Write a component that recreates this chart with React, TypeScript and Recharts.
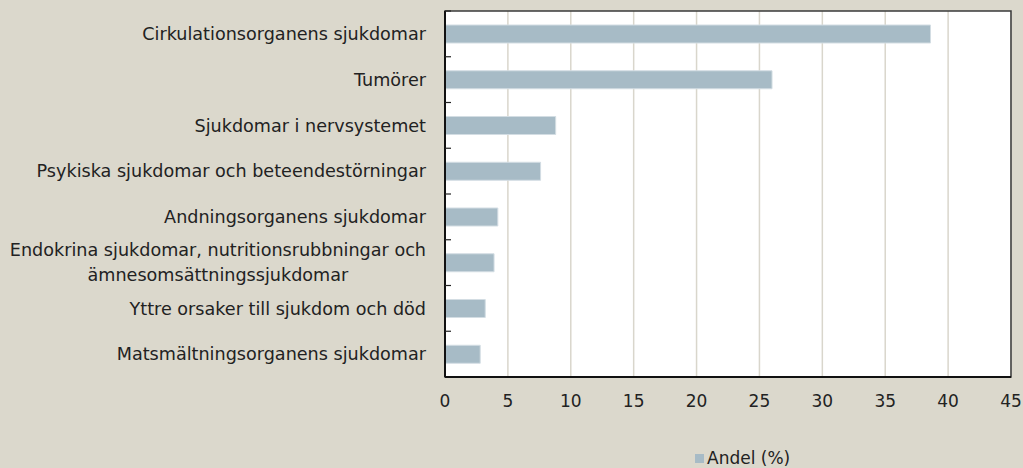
import React from "react";
import {
  Bar,
  BarChart,
  CartesianGrid,
  Legend,
  ReferenceArea,
  XAxis,
  YAxis,
} from "recharts";

// Dödsorsaker, andel (%)
const categories = [
  "Cirkulationsorganens sjukdomar",
  "Tumörer",
  "Sjukdomar i nervsystemet",
  "Psykiska sjukdomar och beteendestörningar",
  "Andningsorganens sjukdomar",
  "Endokrina sjukdomar, nutritionsrubbningar och\nämnesomsättningssjukdomar",
  "Yttre orsaker till sjukdom och död",
  "Matsmältningsorganens sjukdomar",
];
const andel = [38.6, 26.0, 8.8, 7.6, 4.2, 3.9, 3.2, 2.8];
const xTicks = [0, 5, 10, 15, 20, 25, 30, 35, 40, 45];

const FONT = '"DejaVu Sans", sans-serif';
const LABEL_SIZE = 17.6;
const TICK_SIZE = 17;
const BAR_COLOR = "#a7bbc6";
const BG = "#dbd8cc";

const data = categories.map((name, i) => ({ name, andel: andel[i] }));

let ctx: CanvasRenderingContext2D | null = null;
function textWidth(s: string) {
  if (!ctx) ctx = document.createElement("canvas").getContext("2d");
  if (!ctx) return s.length * 9.5;
  ctx.font = `${LABEL_SIZE}px "DejaVu Sans"`;
  return ctx.measureText(s).width;
}

const TICK_GAP = 19;

function CategoryTick(props: any) {
  const { x, y, payload } = props;
  const lines = String(payload.value).split("\n");
  const half = payload.offset ?? 0;
  const axisX = x + TICK_GAP;
  const lineH = 25;
  const maxW = Math.max(...lines.map(textWidth));
  return (
    <g>
      <line x1={axisX} x2={axisX + 6} y1={y - half} y2={y - half} stroke="#222" strokeWidth={1.2} />
      {lines.map((l, i) => (
        <text
          key={i}
          x={lines.length > 1 ? x - maxW / 2 : x}
          y={y + (i - (lines.length - 1) / 2) * lineH}
          dy="0.35em"
          textAnchor={lines.length > 1 ? "middle" : "end"}
          fill="#222"
          fontSize={LABEL_SIZE}
          fontFamily={FONT}
        >
          {l}
        </text>
      ))}
    </g>
  );
}

function LegendContent() {
  return (
    <div style={{ display: "flex", alignItems: "center", fontFamily: FONT, fontSize: 17, color: "#222", lineHeight: "19px" }}>
      <span style={{ display: "inline-block", width: 9, height: 9, background: BAR_COLOR, marginRight: 3 }} />
      Andel (%)
    </div>
  );
}

export default function App() {
  return (
    <div style={{ position: "absolute", left: 0, top: 0, width: 1023, height: 468, background: BG }}>
      <BarChart
        width={1023}
        height={468}
        data={data}
        layout="vertical"
        margin={{ top: 11, right: 12, left: 0, bottom: 0 }}
        barSize={18}
      >
        <CartesianGrid horizontal={false} stroke="#d9d6cc" strokeWidth={1.5} fill="#ffffff" />
        <ReferenceArea x1={0} x2={45} fill="none" stroke="#3a3a3a" strokeWidth={1.5} ifOverflow="extendDomain" />
        <XAxis
          type="number"
          domain={[0, 45]}
          ticks={xTicks}
          interval={0}
          tickLine={false}
          tickSize={0}
          tickMargin={18}
          height={72}
          axisLine={{ stroke: "#111", strokeWidth: 2 }}
          tick={{ fill: "#222", fontSize: TICK_SIZE, fontFamily: FONT }}
        />
        <YAxis
          type="category"
          dataKey="name"
          width={445}
          interval={0}
          tickLine={false}
          tickSize={0}
          tickMargin={TICK_GAP}
          axisLine={{ stroke: "#111", strokeWidth: 2 }}
          tick={<CategoryTick />}
        />
        <Legend content={<LegendContent />} wrapperStyle={{ left: 695, bottom: 0, width: "auto" }} />
        <Bar dataKey="andel" name="Andel (%)" fill={BAR_COLOR} stroke="#d3dde3" strokeWidth={1} isAnimationActive={false} />
      </BarChart>
    </div>
  );
}
